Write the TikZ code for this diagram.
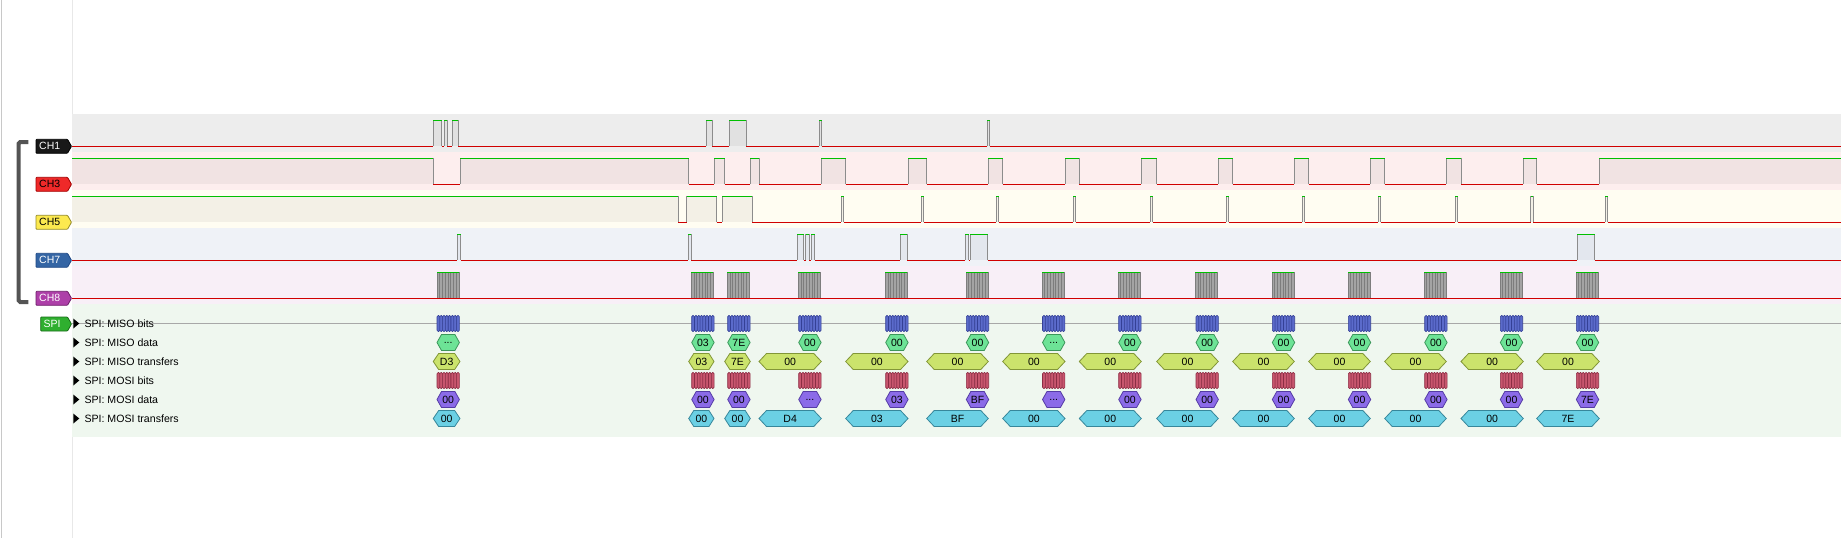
\documentclass[tikz,border=0pt]{standalone}
\usepackage{fontspec}
\setmainfont{Liberation Sans}
\usepackage{tikz}

\definecolor{bgCHa}{RGB}{237,237,237}
\definecolor{upCHa}{RGB}{225,225,225}
\definecolor{bgCHc}{RGB}{253,238,238}
\definecolor{upCHc}{RGB}{241,227,227}
\definecolor{bgCHe}{RGB}{255,253,242}
\definecolor{upCHe}{RGB}{243,240,230}
\definecolor{bgCHg}{RGB}{239,242,247}
\definecolor{upCHg}{RGB}{227,231,238}
\definecolor{bgCHh}{RGB}{248,239,247}
\definecolor{bgSPI}{RGB}{239,247,239}
\definecolor{sigHi}{RGB}{0,192,0}
\definecolor{sigLo}{RGB}{208,0,0}
\definecolor{sigEdge}{RGB}{140,140,140}
\definecolor{clkFill}{RGB}{164,164,164}
\definecolor{clkDark}{RGB}{125,125,125}
\definecolor{sideLine}{RGB}{200,200,200}
\definecolor{colLine}{RGB}{232,232,232}
\definecolor{rowLine}{RGB}{168,168,168}
\definecolor{brk}{RGB}{84,84,84}
\definecolor{tagOne}{RGB}{24,24,24}
\definecolor{tagOneD}{RGB}{0,0,0}
\definecolor{tagThree}{RGB}{239,41,41}
\definecolor{tagThreeD}{RGB}{164,0,0}
\definecolor{tagFive}{RGB}{252,233,79}
\definecolor{tagFiveD}{RGB}{150,140,40}
\definecolor{tagSeven}{RGB}{52,101,164}
\definecolor{tagSevenD}{RGB}{32,74,135}
\definecolor{tagEight}{RGB}{173,63,168}
\definecolor{tagEightD}{RGB}{110,30,105}
\definecolor{tagSpi}{RGB}{47,175,47}
\definecolor{tagSpiD}{RGB}{25,110,25}
\definecolor{misoBit}{RGB}{91,107,203}
\definecolor{misoBitD}{RGB}{52,64,150}
\definecolor{mosiBit}{RGB}{200,86,110}
\definecolor{mosiBitD}{RGB}{140,45,68}
\definecolor{misoDat}{RGB}{109,227,150}
\definecolor{misoDatD}{RGB}{60,150,90}
\definecolor{misoTr}{RGB}{203,227,108}
\definecolor{misoTrD}{RGB}{130,150,55}
\definecolor{mosiDat}{RGB}{139,107,232}
\definecolor{mosiDatD}{RGB}{85,60,165}
\definecolor{mosiTr}{RGB}{107,208,228}
\definecolor{mosiTrD}{RGB}{55,135,155}

\newcommand\annmore{...}

\begin{document}
\begin{tikzpicture}[x=1pt,y=1pt,yscale=-1,xscale=1,
  hi/.style={draw=sigHi,line width=1pt},
  lo/.style={draw=sigLo,line width=1pt},
  edge/.style={draw=sigEdge,line width=1pt},
  clk/.style={draw=clkDark,line width=0.8pt},
  tagtxt/.style={anchor=west,inner sep=0pt,font=\fontsize{10.5}{12}\selectfont},
  rowtxt/.style={anchor=west,inner sep=0pt,font=\fontsize{10.6}{12}\selectfont},
  anntxt/.style={inner sep=0pt,font=\fontsize{10.5}{12}\selectfont},
  misobit/.style={fill=misoBit,draw=misoBitD,line width=0.6pt,rounded corners=1.2pt},
  mosibit/.style={fill=mosiBit,draw=mosiBitD,line width=0.6pt,rounded corners=1.2pt},
  misodat/.style={fill=misoDat,draw=misoDatD,line width=0.8pt},
  misotr/.style={fill=misoTr,draw=misoTrD,line width=0.8pt},
  mosidat/.style={fill=mosiDat,draw=mosiDatD,line width=0.8pt},
  mositr/.style={fill=mosiTr,draw=mosiTrD,line width=0.8pt}]
\useasboundingbox (0,0) rectangle (1841,538);
\fill[white] (0,0) rectangle (1841,538);

%Straight Lines: window frame and label column
\draw[sideLine,line width=1pt] (1,0) -- (1,538);
\draw[colLine,line width=1pt] (72.5,0) -- (72.5,538);

%Shape: channel bands
\fill[bgCHa] (72,114) rectangle (1841,152);
\fill[bgCHc] (72,152) rectangle (1841,190);
\fill[bgCHe] (72,190) rectangle (1841,228);
\fill[bgCHg] (72,228) rectangle (1841,266);
\fill[bgCHh] (72,266) rectangle (1841,304);
\fill[bgSPI] (72,304) rectangle (1841,437);

\begin{scope}
\clip (72,100) rectangle (1841,310);
% CH1 trace
\foreach \a/\b [remember=\b as \c (initially 72)] in {433.3/441.7,444.3/447.3,452.3/458.3,706.3/712.3,729.3/746.3,819.3/821.7,987/989.7}{
  \fill[upCHa] (\a,120.3) rectangle (\b,146.3);
  \draw[lo] (\c,146.3) -- (\a,146.3);
  \draw[edge] (\a,120.3) -- (\a,146.3) (\b,120.3) -- (\b,146.3);
  \draw[hi] (\a,120.3) -- (\b,120.3);
}
\draw[lo] (989.7,146.3) -- (1841,146.3);
% CH3 trace
\foreach \a/\b [remember=\b as \c (initially 72)] in {70/433.3,460/688.7,714/724.7,750.3/759,821.3/845.7,908/926.7,988.3/1002.7,1065/1079.3,1141.3/1156.7,1218.3/1232.7,1294.3/1308.7,1370.3/1384.7,1446.3/1461,1523.3/1536.7,1599.3/1843}{
  \fill[upCHc] (\a,158.3) rectangle (\b,184.3);
  \draw[lo] (\c,184.3) -- (\a,184.3);
  \draw[edge] (\a,158.3) -- (\a,184.3) (\b,158.3) -- (\b,184.3);
  \draw[hi] (\a,158.3) -- (\b,158.3);
}
% CH5 trace
\foreach \a/\b [remember=\b as \c (initially 72)] in {70/678.3,686.7/716.7,722.3/752.3,841.3/843.7,921.3/923.7,996.3/998.7,1073.3/1075.7,1150.3/1152.7,1226.3/1228.7,1302.3/1304.7,1378.3/1380.7,1455/1457.7,1530.7/1533.3,1605/1607.7}{
  \fill[upCHe] (\a,196.3) rectangle (\b,222.3);
  \draw[lo] (\c,222.3) -- (\a,222.3);
  \draw[edge] (\a,196.3) -- (\a,222.3) (\b,196.3) -- (\b,222.3);
  \draw[hi] (\a,196.3) -- (\b,196.3);
}
\draw[lo] (1607.7,222.3) -- (1841,222.3);
% CH7 trace
\foreach \a/\b [remember=\b as \c (initially 72)] in {457.3/460.7,688.3/691,797.3/803.7,805.7/809,811.3/814.7,900.3/907,965/968.7,970.3/987.7,1577.3/1594.7}{
  \fill[upCHg] (\a,234.3) rectangle (\b,260.3);
  \draw[lo] (\c,260.3) -- (\a,260.3);
  \draw[edge] (\a,234.3) -- (\a,260.3) (\b,234.3) -- (\b,260.3);
  \draw[hi] (\a,234.3) -- (\b,234.3);
}
\draw[lo] (1594.7,260.3) -- (1841,260.3);
% CH8 trace, clock bursts
\foreach \b in {437,691.3,727.3,798.3,885.3,966,1042,1118,1195.3,1272,1348,1424,1500,1576}{
  \fill[clkFill] (\b,272.3) rectangle (\b+22,298.3);
  \foreach \k in {0,...,8}{
    \draw[clk] (\b+\k*2.75,272.3) -- (\b+\k*2.75,298.3);
  }
  \draw[hi] (\b,272.3) -- (\b+22,272.3);
}
\draw[lo] (72,298.3) -- (1841,298.3);
\end{scope}

%Shape: group bracket
\draw[brk,line width=4pt,rounded corners=1.5pt] (28.3,142) -- (18.7,142) -- (18.7,302) -- (28.3,302);

% Text Node: channel tags
\foreach \y/\fc/\dc/\tc/\lbl [count=\i] in {146.3/tagOne/tagOneD/white/CH1,184.3/tagThree/tagThreeD/black/CH3,222.3/tagFive/tagFiveD/black/CH5,260.3/tagSeven/tagSevenD/white/CH7,298.3/tagEight/tagEightD/white/CH8}{
  \draw[fill=\fc,draw=\dc,line width=0.8pt,rounded corners=0.8pt] (36,\y-7) -- (67.5,\y-7) -- (71.5,\y) -- (67.5,\y+7) -- (36,\y+7) -- cycle;
  \node[tagtxt,text=\tc] (tag\i) at (39,\y) {\lbl};
}
\draw[fill=tagSpi,draw=tagSpiD,line width=0.8pt,rounded corners=0.8pt] (40.7,317) -- (67.5,317) -- (71.5,324) -- (67.5,331) -- (40.7,331) -- cycle;
\node[tagtxt,text=white] (tagspi) at (43.3,324) {SPI};

%Straight Lines: MISO bits row
\draw[rowLine,line width=1pt] (72,323.5) -- (1841,323.5);

% Text Node: decoder rows
\foreach \k/\lbl in {0/{SPI: MISO bits},1/{SPI: MISO data},2/{SPI: MISO transfers},3/{SPI: MOSI bits},4/{SPI: MOSI data},5/{SPI: MOSI transfers}}{
  \pgfmathsetmacro\ry{323.5+19*\k}
  \fill[black] (73.3,\ry-5) -- (79.3,\ry) -- (73.3,\ry+5) -- cycle;
  \node[rowtxt] (row\k) at (84.3,\ry) {\lbl};
}

%Shape: SPI annotations
\foreach \b/\ts/\te/\md/\mt/\od/\ot [count=\i] in {
  437/433.3/460/\annmore/D3/00/00,
  691.7/688.7/714/03/03/00/00,
  727.7/724.7/750.3/7E/7E/00/00,
  798.7/759/821.3/00/00/\annmore/D4,
  885.7/845.7/908/00/00/03/03,
  966.3/926.7/988.3/00/00/BF/BF,
  1042.5/1002.7/1065/\annmore/00/\annmore/00,
  1118.7/1079.3/1141.3/00/00/00/00,
  1196/1156.7/1218.3/00/00/00/00,
  1272.3/1232.7/1294.3/00/00/00/00,
  1348.3/1308.7/1370.3/00/00/00/00,
  1424.7/1384.7/1446.3/00/00/00/00,
  1500.3/1461/1523.3/00/00/00/00,
  1576.3/1536.7/1599.3/00/00/7E/7E}{
  \pgfmathsetmacro\cp{min(7.5,(\te-\ts)/5)}
  \pgfmathsetmacro\tm{(\ts+\te)/2}
  % bits
  \foreach \k in {0,...,7}{
    \draw[misobit] (\b+\k*2.8,315.5) rectangle ++(2.8,16);
    \draw[mosibit] (\b+\k*2.8,372.5) rectangle ++(2.8,16);
  }
  % data
  \draw[misodat] (\b,342.5) -- ++(4.5,-8) -- ++(13.4,0) -- ++(4.5,8) -- ++(-4.5,8) -- ++(-13.4,0) -- cycle;
  \draw[mosidat] (\b,399.5) -- ++(4.5,-8) -- ++(13.4,0) -- ++(4.5,8) -- ++(-4.5,8) -- ++(-13.4,0) -- cycle;
  \node[anntxt] (md\i) at (\b+11.2,342.5) {\md};
  \node[anntxt] (od\i) at (\b+11.2,399.5) {\od};
  % transfers
  \draw[misotr] (\ts,361.5) -- (\ts+\cp,353.5) -- (\te-\cp,353.5) -- (\te,361.5) -- (\te-\cp,369.5) -- (\ts+\cp,369.5) -- cycle;
  \draw[mositr] (\ts,418.5) -- (\ts+\cp,410.5) -- (\te-\cp,410.5) -- (\te,418.5) -- (\te-\cp,426.5) -- (\ts+\cp,426.5) -- cycle;
  \node[anntxt] (mt\i) at (\tm,361.5) {\mt};
  \node[anntxt] (ot\i) at (\tm,418.5) {\ot};
}

\end{tikzpicture}
\end{document}
